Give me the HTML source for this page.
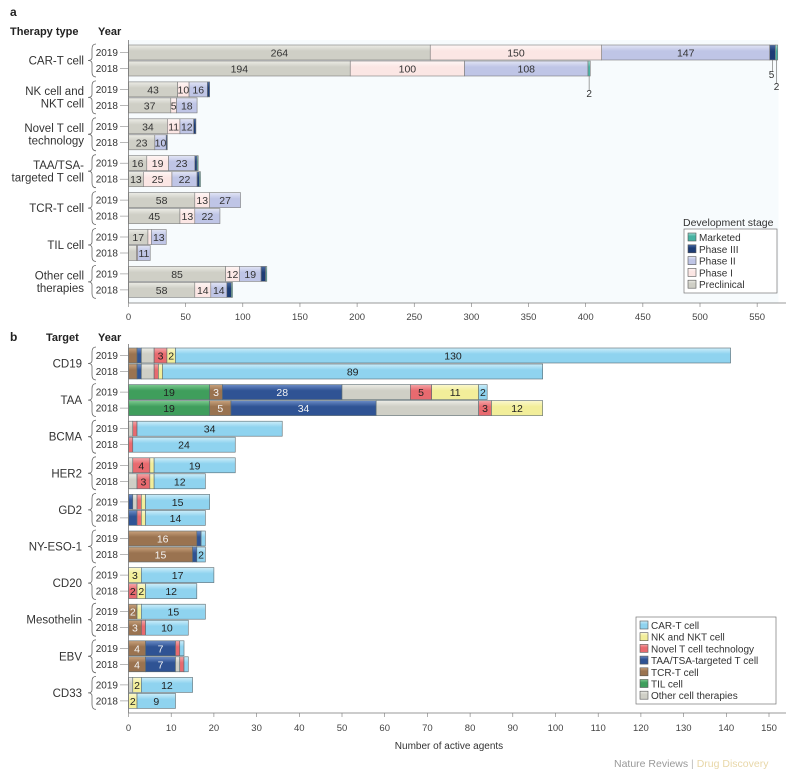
<!DOCTYPE html>
<html><head><meta charset="utf-8"><style>
body{margin:0;background:#fff;}
svg{display:block;font-family:"Liberation Sans",sans-serif;}
</style></head><body>
<svg id="c" width="800" height="783" viewBox="0 0 800 783"></svg>
<script>
// ---- Panel a data ----
const therapyTypes=[["CAR-T cell"],["NK cell and","NKT cell"],["Novel T cell","technology"],["TAA/TSA-","targeted T cell"],["TCR-T cell"],["TIL cell"],["Other cell","therapies"]];
const stages=["Preclinical","Phase I","Phase II","Phase III","Marketed"];
const a2019=[[264,150,147,5,2],[43,10,16,2,0],[34,11,12,2,0],[16,19,23,2,1],[58,13,27,0,0],[17,3,13,0,0],[85,12,19,4,1]];
const a2018=[[194,100,108,0,2],[37,5,18,0,0],[23,0,10,1,0],[13,25,22,2,1],[45,13,22,0,0],[7,1,11,0,0],[58,14,14,4,1]];
const aTicks=[0,50,100,150,200,250,300,350,400,450,500,550];
// ---- Panel b data ----
const targets=["CD19","TAA","BCMA","HER2","GD2","NY-ESO-1","CD20","Mesothelin","EBV","CD33"];
const cellTypes=["TIL cell","TCR-T cell","TAA/TSA-targeted T cell","Other cell therapies","Novel T cell technology","NK and NKT cell","CAR-T cell"];
const b2019=[[0,2,1,3,3,2,130],[19,3,28,16,5,11,2],[0,0,0,1,1,0,34],[0,0,0,1,4,1,19],[0,0,1,1,1,1,15],[0,16,1,0,0,0,1],[0,0,0,0,0,3,17],[0,2,0,0,0,1,15],[0,4,7,0,1,0,1],[0,0,0,1,0,2,12]];
const b2018=[[0,2,1,3,1,1,89],[19,5,34,24,3,12,0],[0,0,0,0,1,0,24],[0,0,0,2,3,1,12],[0,0,2,0,1,1,14],[0,15,1,0,0,0,2],[0,0,0,0,2,2,12],[0,3,0,0,1,0,10],[0,4,7,1,1,0,1],[0,0,0,0,0,2,9]];
const bTicks=[0,10,20,30,40,50,60,70,80,90,100,110,120,130,140,150];

const NS="http://www.w3.org/2000/svg";
const svg=document.getElementById('c');
function mk(tag,attrs,parent){const e=document.createElementNS(NS,tag);for(const k in attrs)e.setAttribute(k,attrs[k]);(parent||svg).appendChild(e);return e;}
function txt(s,x,y,o,parent){const t=mk('text',Object.assign({x:x,y:y,'font-size':10,fill:'#333'},o||{}),parent);t.textContent=s;return t;}

const defs=mk('defs',{});
function grad(id,c1,c2){const g=mk('linearGradient',{id:id,x1:0,y1:0,x2:0,y2:1},defs);mk('stop',{offset:'0','stop-color':c2},g);mk('stop',{offset:'0.4','stop-color':c1},g);mk('stop',{offset:'1','stop-color':c1},g);}
const aCol=[['#cfcfc6','#ecece6'],['#fbe6e4','#fff6f5'],['#bfc5e6','#e2e5f5'],['#1d3c75','#4a6aa3'],['#48b3a3','#9fdcd1']];
aCol.forEach((c,i)=>grad('ga'+i,c[0],c[1]));
const bCol=[['#3f9e5c','#7cc98f'],['#9a7350','#c9a27c'],['#2f5394','#6b8cc7'],['#cfcfc6','#ecece6'],['#e86a6f','#f5a6a8'],['#f2ee9a','#fbf8cf'],['#8fd3ef','#cdeefa']];
bCol.forEach((c,i)=>grad('gb'+i,c[0],c[1]));

const X0=128.5;
function xa(v){return X0+v*1.143;}
function xb(v){return X0+v*4.27;}

function bracket(g,yTop,yBot,xr){
  const yc=(yTop+yBot)/2;
  mk('path',{d:`M${xr+4} ${yTop} Q${xr} ${yTop} ${xr} ${yTop+5} L${xr} ${yc-3} Q${xr} ${yc} ${xr-4} ${yc} Q${xr} ${yc} ${xr} ${yc+3} L${xr} ${yBot-5} Q${xr} ${yBot} ${xr+4} ${yBot}`,fill:'none',stroke:'#666','stroke-width':0.8},g);
  return yc;
}

// ---- Panel a ----
const ga=mk('g',{});


mk('rect',{x:X0,y:40,width:650,height:263,fill:'#f7fbfd'},ga);
txt('a',10,16,{'font-size':12,'font-weight':'bold',fill:'#222'},ga);
txt('Therapy type',10,35,{'font-size':11,'font-weight':'bold',fill:'#222'},ga);
txt('Year',98,35,{'font-size':11,'font-weight':'bold',fill:'#222'},ga);
const aStep=36.9, aY0=45, bh=15;
function drawBarsA(vals,y,yr,gi){
  let acc=0;
  vals.forEach((v,si)=>{
    if(v<=0)return;
    const r=mk('rect',{x:xa(acc),y:y,width:xa(acc+v)-xa(acc),height:bh,fill:`url(#ga${si})`,stroke:'#7a7a7a','stroke-width':0.6},ga);
    
    
    const w=xa(acc+v)-xa(acc);
    if(si<3&&w>=5.5&&!(si===0&&v<10)){txt(String(v),(xa(acc)+xa(acc+v))/2,y+11.5,{'text-anchor':'middle','font-size':10.5},ga);}
    acc+=v;
  });
}
therapyTypes.forEach((lab,i)=>{
  const y19=aY0+i*aStep, y18=y19+16;
  drawBarsA(a2019[i],y19,'2019',i);
  drawBarsA(a2018[i],y18,'2018',i);
  txt('2019',118,y19+11,{'text-anchor':'end','font-size':10},ga);
  txt('2018',118,y18+11,{'text-anchor':'end','font-size':10},ga);
  mk('line',{x1:120,x2:X0,y1:y19+7.5,y2:y19+7.5,stroke:'#888','stroke-width':0.6},ga);
  mk('line',{x1:120,x2:X0,y1:y18+7.5,y2:y18+7.5,stroke:'#888','stroke-width':0.6},ga);
  const yc=bracket(ga,y19-1,y18+bh+1,92);
  const lh=12.5, n=lab.length;
  lab.forEach((s,k)=>txt(s,84,yc+4+(k-(n-1)/2)*lh,{'text-anchor':'end','font-size':11.5},ga));
});
// CAR-T annotations
{
  const v=a2019[0], s3=v[0]+v[1]+v[2];
  const xm=(xa(s3)+xa(s3+v[3]))/2, xk=(xa(s3+v[3])+xa(s3+v[3]+v[4]))/2;
  mk('line',{x1:xm,x2:xm,y1:aY0+bh,y2:aY0+27,stroke:'#666','stroke-width':0.6},ga);
  txt(String(v[3]),xm-1,aY0+33,{'text-anchor':'middle','font-size':10},ga);
  mk('line',{x1:xk,x2:xk,y1:aY0+bh,y2:aY0+39,stroke:'#666','stroke-width':0.6},ga);
  txt(String(v[4]),xk,aY0+45,{'text-anchor':'middle','font-size':10},ga);
  const w=a2018[0], t=w[0]+w[1]+w[2]+w[3], x2=(xa(t)+xa(t+w[4]))/2;
  mk('line',{x1:x2,x2:x2,y1:aY0+16+bh,y2:aY0+46,stroke:'#666','stroke-width':0.6},ga);
  txt(String(w[4]),x2,aY0+52,{'text-anchor':'middle','font-size':10},ga);
}
mk('line',{x1:X0,x2:X0,y1:40,y2:303,stroke:'#777','stroke-width':0.8},ga);
mk('line',{x1:X0,x2:786,y1:303,y2:303,stroke:'#777','stroke-width':0.8},ga);
aTicks.forEach(t=>{mk('line',{x1:xa(t),x2:xa(t),y1:303,y2:307,stroke:'#777','stroke-width':0.6},ga);txt(String(t),xa(t),320,{'text-anchor':'middle','font-size':9.5,fill:'#444'},ga);});
// legend a
const la=mk('g',{},ga);


txt('Development stage',683,226,{'font-size':10.5},la);
mk('rect',{x:684,y:229,width:93,height:64,fill:'#fff',stroke:'#777','stroke-width':0.7},la);
[4,3,2,1,0].forEach((si,k)=>{
  mk('rect',{x:688,y:233+k*11.8,width:8,height:8,fill:`url(#ga${si})`,stroke:'#555','stroke-width':0.6},la);
  txt(stages[si],699,241+k*11.8,{'font-size':10},la);
});

// ---- Panel b ----
const gb=mk('g',{});


txt('b',10,341,{'font-size':12,'font-weight':'bold',fill:'#222'},gb);
txt('Target',46,341,{'font-size':11,'font-weight':'bold',fill:'#222'},gb);
txt('Year',98,341,{'font-size':11,'font-weight':'bold',fill:'#222'},gb);
const bStep=36.6, bY0=348;
function drawBarsB(vals,y,yr){
  let acc=0;
  vals.forEach((v,si)=>{
    if(v<=0)return;
    const w=xb(acc+v)-xb(acc);
    const r=mk('rect',{x:xb(acc),y:y,width:w,height:bh,fill:`url(#gb${si})`,stroke:'#5a6a70','stroke-width':0.6},gb);
    
    
    if(si!==3&&v>=2&&!(si===1&&v<3&&acc===0&&vals[6]>50)&&!(si===2&&v<5)){
      const white=(si===1||si===2);
      txt(String(v),(xb(acc)+xb(acc+v))/2,y+11.5,{'text-anchor':'middle','font-size':10.5,fill:white?'#f4f4f4':'#222'},gb);
    }
    acc+=v;
  });
}
targets.forEach((lab,i)=>{
  const y19=bY0+i*bStep, y18=y19+16;
  drawBarsB(b2019[i],y19,'2019');
  drawBarsB(b2018[i],y18,'2018');
  txt('2019',118,y19+11,{'text-anchor':'end','font-size':10},gb);
  txt('2018',118,y18+11,{'text-anchor':'end','font-size':10},gb);
  mk('line',{x1:120,x2:X0,y1:y19+7.5,y2:y19+7.5,stroke:'#888','stroke-width':0.6},gb);
  mk('line',{x1:120,x2:X0,y1:y18+7.5,y2:y18+7.5,stroke:'#888','stroke-width':0.6},gb);
  const yc=bracket(gb,y19-1,y18+bh+1,92);
  txt(lab,82,yc+4,{'text-anchor':'end','font-size':11.5},gb);
});
mk('line',{x1:X0,x2:X0,y1:344,y2:713,stroke:'#777','stroke-width':0.8},gb);
mk('line',{x1:X0,x2:786,y1:713,y2:713,stroke:'#777','stroke-width':0.8},gb);
bTicks.forEach(t=>{mk('line',{x1:xb(t),x2:xb(t),y1:713,y2:717,stroke:'#777','stroke-width':0.6},gb);txt(String(t),xb(t),731,{'text-anchor':'middle','font-size':9.5,fill:'#444'},gb);});
txt('Number of active agents',449,749,{'text-anchor':'middle','font-size':10,fill:'#333'},gb);
const lb=mk('g',{},gb);


mk('rect',{x:636,y:617,width:140,height:87,fill:'#fff',stroke:'#777','stroke-width':0.7},lb);
[6,5,4,2,1,0,3].forEach((si,k)=>{
  mk('rect',{x:640,y:621+k*11.7,width:8,height:8,fill:`url(#gb${si})`,stroke:'#555','stroke-width':0.6},lb);
  txt(cellTypes[si],651,629+k*11.7,{'font-size':10},lb);
});
const ft=txt('',614,767,{'font-size':10.5},gb);


ft.innerHTML='<tspan fill="#999">Nature Reviews</tspan><tspan fill="#bbb"> | </tspan><tspan fill="#e8d7a8">Drug Discovery</tspan>';
</script>
</body></html>
